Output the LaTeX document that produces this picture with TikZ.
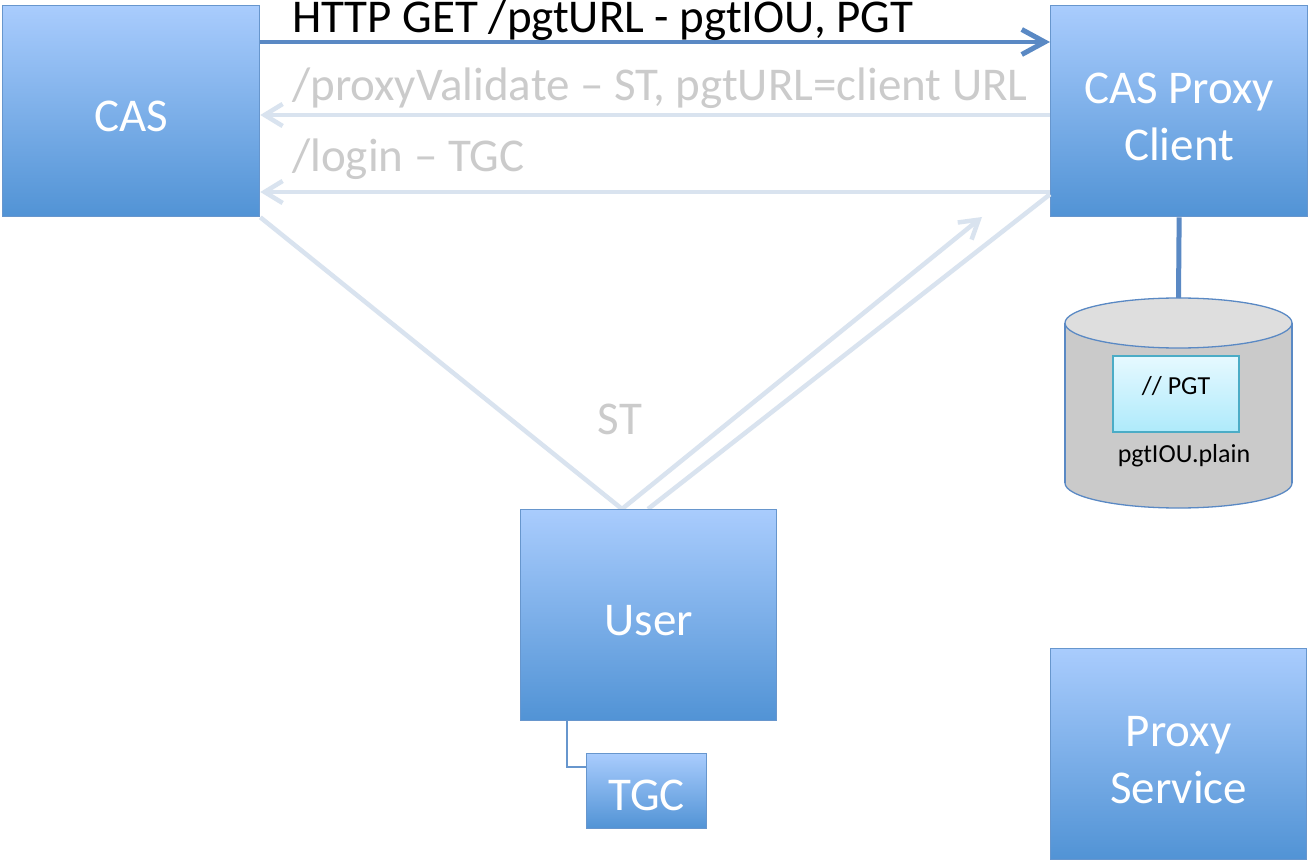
\documentclass[tikz,border=0pt]{standalone}
\usepackage{fontspec}
\setmainfont{Carlito}
\usetikzlibrary{arrows.meta,calc}
\definecolor{boxtop}{HTML}{A9CCFD}
\definecolor{boxbot}{HTML}{5193D5}
\definecolor{boxedge}{HTML}{6796CD}
\definecolor{darkarrow}{HTML}{5A89C4}
\definecolor{lightline}{HTML}{D9E3EF}
\definecolor{graytext}{HTML}{CBCBCB}
\definecolor{cylbody}{HTML}{CACACA}
\definecolor{cyltop}{HTML}{DEDEDE}
\definecolor{pgttop}{HTML}{E6F9FF}
\definecolor{pgtbot}{HTML}{AEEAFB}
\definecolor{pgtedge}{HTML}{4BACC6}
\tikzset{
  bluebox/.style={draw=boxedge, line width=1.3pt, top color=boxtop, bottom color=boxbot,
    inner sep=0pt, anchor=north west},
  boxtext/.style={text=white, align=center, inner sep=0pt,
    font=\fontsize{47}{57}\selectfont},
  darkarr/.style={draw=darkarrow, line width=4pt, -{Straight Barb[length=23pt,width=25pt,line width=5pt]}},
  lightarr/.style={draw=lightline, line width=4.5pt, -{Straight Barb[length=18pt,width=22pt,line width=4.5pt]}},
  lightln/.style={draw=lightline, line width=4.5pt},
  graylbl/.style={text=graytext, anchor=base west, inner sep=0pt, font=\fontsize{47}{50}\selectfont},
  smalltext/.style={inner sep=0pt, font=\fontsize{26}{30}\selectfont},
}
\begin{document}
\begin{tikzpicture}[x=1pt,y=-1pt]
\useasboundingbox (0,0) rectangle (1310,861);
\fill[white] (0,0) rectangle (1310,861);

% boxes
\node[bluebox, minimum width=257pt, minimum height=211pt] (cas) at (2,5) {};
\node[boxtext] (castxt) at ($(cas.center)+(0,5)$) {CAS};
\node[bluebox, minimum width=257pt, minimum height=211pt] (pc) at (1050,5) {};
\node[boxtext] (pctxt) at ($(pc.center)+(0,6)$) {CAS Proxy\\Client};
\node[bluebox, minimum width=256pt, minimum height=211pt] (proxy) at (1050,648) {};
\node[boxtext] (proxytxt) at ($(proxy.center)+(0,6)$) {Proxy\\Service};

% light connectors
\draw[lightarr] ($(pc.north west)+(0,110)$) -- ($(cas.north east)+(0,110)$);
\draw[lightarr] ($(pc.north west)+(0,187)$) -- ($(cas.north east)+(0,187)$);
\coordinate (usertopA) at (622,509);
\coordinate (usertopB) at (648,509);
\coordinate (sttip) at (982,217);
\draw[lightln] (cas.south east) -- (usertopA);
\draw[lightarr] (usertopA) -- (sttip);
\draw[lightln] (usertopB) -- ($(pc.south west)+(0,-23)$);

% user and TGC
\node[bluebox, minimum width=256pt, minimum height=211pt] (user) at (520,509) {};
\node[boxtext] (usertxt) at ($(user.center)+(0,5)$) {User};
\node[bluebox, minimum width=120pt, minimum height=75pt] (tgc) at (586,753) {};
\node[boxtext] (tgctxt) at ($(tgc.center)+(0,4)$) {TGC};
\draw[boxedge, line width=1.3pt] ($(user.south west)+(47,0)$) |- (tgc.west |- 0,767);

% dark arrow
\draw[darkarr] ($(cas.north east)+(0,37)$) -- ($(pc.north west)+(0,37)$);

% labels
\node[anchor=base west, inner sep=0pt, font=\fontsize{47}{50}\selectfont] (lblhttp) at (292,33) {HTTP GET /pgtURL - pgtIOU, PGT};
\node[graylbl] (lblpv) at (292,101) {/proxyValidate – ST, pgtURL=client URL};
\node[graylbl] (lbllogin) at (292,172) {/login – TGC};
\node[text=graytext, inner sep=0pt, font=\fontsize{47}{50}\selectfont] (lblst) at (620,419) {ST};

% database cylinder
\fill[cylbody] (1178.5,483) ellipse[x radius=113.5, y radius=25];
\draw[darkarrow, line width=1.3pt] (1178.5,483) ellipse[x radius=113.5, y radius=25];
\fill[cylbody] (1065,323) rectangle (1292,483);
\draw[darkarrow, line width=1.3pt] (1065,323) -- (1065,483);
\draw[darkarrow, line width=1.3pt] (1292,323) -- (1292,483);
\draw[darkarrow, line width=1.3pt, fill=cyltop] (1178.5,323) ellipse[x radius=113.5, y radius=25];
\coordinate (dbtop) at (1178.5,298);
\draw[darkarrow, line width=5pt] (pc.south) -- (dbtop);
\node[draw=pgtedge, line width=1.3pt, top color=pgttop, bottom color=pgtbot,
  minimum width=126pt, minimum height=76pt, inner sep=0pt] (pgtbox) at (1176,394) {};
\node[smalltext] (pgtlbl) at (1176,386) {// PGT};
\node[smalltext] (dblbl) at (1184,456) {pgtIOU.plain};
\end{tikzpicture}
\end{document}
